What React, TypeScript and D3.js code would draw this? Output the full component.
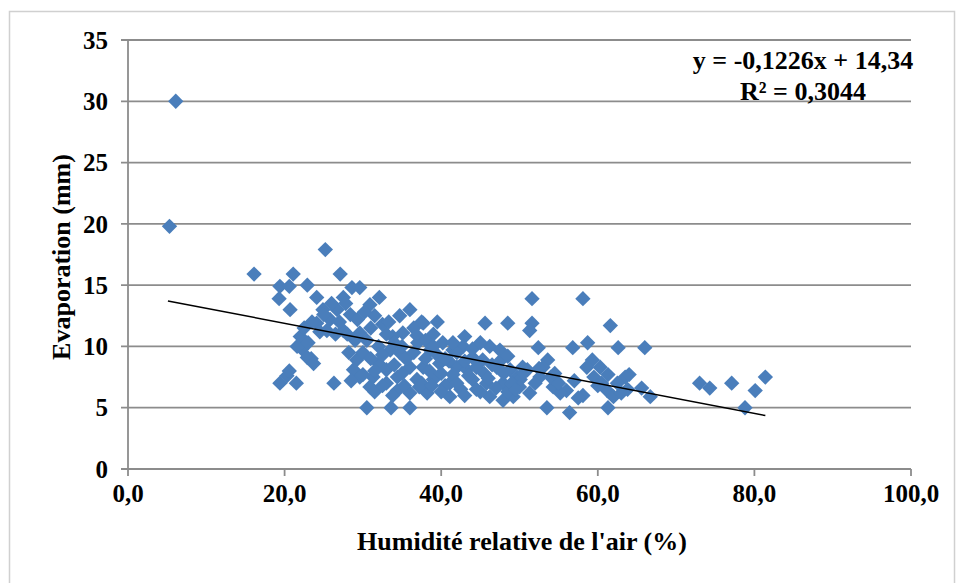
import React from "react";
import * as d3 from "d3";

const humidity: number[] = [
  6.1, 5.3, 16.1, 25.2, 19.4, 20.6, 21.1, 19.3, 20.7, 22.9, 27.1, 28.6, 29.6, 32.1,
  19.4, 21.5, 20.3, 20.6, 26.3, 22.2, 23.4, 24.1, 27.5, 30.9, 24.9, 26.7, 25.8, 28.4,
  24.1, 22.0, 21.6, 22.9, 23.7, 25.4, 27.5, 29.6, 29.2, 28.8, 29.6, 30.9, 30.5, 33.6,
  32.0, 33.0, 31.3, 33.8, 33.5, 30.0, 36.0, 37.7, 39.5, 45.6, 48.5, 35.1, 36.9, 43.0,
  42.8, 46.2, 47.5, 40.2, 41.5, 34.7, 38.6, 44.0, 45.3, 36.0, 37.7, 39.8, 42.0, 43.3,
  47.1, 48.8, 50.4, 34.4, 36.9, 39.0, 41.1, 44.0, 45.8, 47.9, 49.7, 34.4, 36.0, 38.2,
  41.1, 46.2, 47.9, 36.0, 49.2, 51.6, 58.1, 51.6, 51.3, 61.6, 52.4, 53.6, 56.8, 58.7,
  62.6, 66.0, 59.3, 60.3, 58.6, 61.3, 63.5, 51.0, 52.6, 50.1, 54.3, 56.0, 58.1, 61.2,
  62.0, 65.6, 66.7, 51.3, 53.5, 56.4, 61.3, 55.2, 73.0, 74.3, 77.1, 81.4, 80.1, 78.8,
  30.5, 31.0, 31.5, 32.0, 32.5, 33.0, 33.0, 34.0, 35.0, 35.5, 36.5, 37.0, 37.5, 38.0,
  38.5, 39.0, 39.5, 40.0, 40.5, 41.0, 41.5, 42.0, 42.5, 43.0, 43.5, 44.5, 45.0, 45.5,
  46.5, 47.0, 48.0, 48.5, 49.0, 50.0, 50.5, 52.0, 53.0, 54.0, 55.0, 57.0, 59.5, 60.0,
  62.5, 63.8, 64.0, 35.0, 34.0, 31.5, 32.5, 29.0, 28.0, 27.0, 26.5, 25.0, 23.5, 24.5,
  22.5, 23.0, 26.0, 27.8, 28.2, 28.5, 30.0, 31.5, 32.5, 33.8, 35.3, 37.2, 38.8, 40.0,
  42.0, 43.0, 44.5, 46.0, 47.5, 48.5, 49.5, 52.5, 54.5, 57.5, 60.5, 63.0, 36.5, 37.5,
  38.0, 39.0, 40.5, 41.5, 44.0, 45.0, 29.3, 30.2, 31.0, 33.3, 34.7,
];

const evaporation: number[] = [
  30.0, 19.8, 15.9, 17.9, 14.9, 14.9, 15.9, 13.9, 13.0, 15.0, 15.9, 14.8, 14.8, 14.0,
  7.0, 7.0, 7.6, 8.0, 7.0, 9.8, 9.0, 14.0, 14.0, 13.4, 13.0, 13.0, 12.2, 12.6,
  11.9, 10.8, 10.0, 9.1, 8.6, 11.3, 11.3, 11.1, 8.9, 8.1, 7.5, 6.7, 5.0, 5.0,
  8.6, 8.1, 7.5, 10.8, 9.7, 9.5, 13.0, 11.9, 12.0, 11.9, 11.9, 11.1, 10.9, 10.8,
  10.0, 10.0, 9.7, 10.3, 9.7, 9.5, 9.7, 9.1, 8.9, 8.3, 8.3, 8.6, 8.3, 8.1,
  8.3, 8.1, 8.3, 7.5, 7.3, 7.3, 7.0, 7.3, 7.0, 7.0, 7.5, 6.4, 6.2, 6.2,
  5.9, 5.9, 5.6, 5.0, 5.9, 13.9, 13.9, 11.9, 11.3, 11.7, 9.9, 8.9, 9.9, 10.3,
  9.9, 9.9, 8.9, 8.3, 8.3, 7.7, 7.5, 8.1, 7.5, 7.3, 6.7, 6.4, 6.0, 6.4,
  5.9, 6.6, 5.9, 6.2, 5.0, 4.6, 5.0, 6.2, 7.0, 6.6, 7.0, 7.5, 6.4, 5.0,
  10.5, 9.0, 8.0, 10.0, 9.3, 7.0, 11.0, 8.5, 7.8, 9.0, 9.5, 10.3, 7.0, 9.0,
  8.0, 11.0, 9.3, 7.8, 6.8, 8.8, 7.7, 9.5, 6.5, 8.8, 7.6, 8.3, 6.3, 7.8,
  8.5, 6.6, 7.8, 6.3, 7.0, 6.7, 7.8, 7.0, 8.3, 7.5, 7.0, 7.2, 7.5, 6.8,
  7.0, 6.5, 7.7, 10.0, 10.3, 12.5, 11.8, 10.5, 11.0, 12.0, 11.0, 12.6, 12.0, 11.2,
  11.5, 10.3, 13.5, 13.5, 9.5, 7.2, 7.7, 6.3, 6.8, 6.0, 6.8, 6.7, 6.8, 6.3,
  7.0, 6.0, 6.5, 7.4, 8.8, 9.2, 6.5, 8.2, 7.8, 5.8, 7.0, 6.2, 11.5, 12.0,
  10.5, 10.0, 9.0, 10.3, 9.8, 10.3, 12.2, 12.8, 11.5, 12.0, 12.5,
];

const xTicks: number[] = [0, 20, 40, 60, 80, 100];
const yTicks: number[] = [0, 5, 10, 15, 20, 25, 30, 35];
const slope = -0.1226;
const intercept = 14.34;
const trendRange: number[] = [5.1, 81.4];
const equationLines: string[] = ["y = -0,1226x + 14,34", "R² = 0,3044"];
const xTitle = "Humidité relative de l'air (%)";
const yTitle = "Evaporation (mm)";

export default function App() {
  const W = 956;
  const H = 583;
  const x = d3.scaleLinear().domain([0, 100]).range([128, 911]);
  const y = d3.scaleLinear().domain([0, 35]).range([469, 40]);
  const fmtX = (v: number) => d3.format(".1f")(v).replace(".", ",");
  const font = "'Liberation Serif', 'Times New Roman', serif";
  const diamond = d3.symbol().type(d3.symbolDiamond2).size(150)();
  const trend = d3
    .line<number>()
    .x((d) => x(d))
    .y((d) => y(slope * d + intercept));
  const points = humidity.map((h, i) => [h, evaporation[i]]);

  return (
    <svg
      width={W}
      height={H}
      style={{ position: "absolute", left: 0, top: 0, background: "#fff" }}
    >
      <rect x={9.5} y={11.5} width={945} height={590} fill="#fff" stroke="#d0d0d0" strokeWidth={1.5} />
      {yTicks.map((t) => (
        <g key={"gy" + t}>
          <line x1={121} x2={911} y1={y(t)} y2={y(t)} stroke="#8c8c8c" strokeWidth={1.8} />
          <text
            x={108}
            y={y(t)}
            dy="0.35em"
            textAnchor="end"
            fontFamily={font}
            fontWeight="bold"
            fontSize={25}
            fill="#000"
          >
            {t}
          </text>
        </g>
      ))}
      <line x1={x(0)} x2={x(0)} y1={y(35)} y2={y(0)} stroke="#8c8c8c" strokeWidth={1.8} />
      {xTicks.map((t) => (
        <g key={"gx" + t}>
          <line x1={x(t)} x2={x(t)} y1={y(0)} y2={y(0) + 7} stroke="#8c8c8c" strokeWidth={1.8} />
          <text
            x={x(t)}
            y={502}
            textAnchor="middle"
            fontFamily={font}
            fontWeight="bold"
            fontSize={25}
            fill="#000"
          >
            {fmtX(t)}
          </text>
        </g>
      ))}
      {points.map(([h, e], i) => (
        <path
          key={i}
          d={diamond!}
          transform={`translate(${x(h)},${y(e)})`}
          fill="#4a7ebb"
        />
      ))}
      <path d={trend(trendRange)!} stroke="#000" strokeWidth={1.5} fill="none" />
      {equationLines.map((s, i) => (
        <text
          key={s}
          x={803}
          y={69 + i * 31}
          textAnchor="middle"
          fontFamily={font}
          fontWeight="bold"
          fontSize={26}
          fill="#000"
        >
          {s}
        </text>
      ))}
      <text
        x={522}
        y={550}
        textAnchor="middle"
        fontFamily={font}
        fontWeight="bold"
        fontSize={26}
        fill="#000"
      >
        {xTitle}
      </text>
      <text
        transform={`translate(70,257) rotate(-90)`}
        textAnchor="middle"
        fontFamily={font}
        fontWeight="bold"
        fontSize={26}
        fill="#000"
      >
        {yTitle}
      </text>
    </svg>
  );
}
